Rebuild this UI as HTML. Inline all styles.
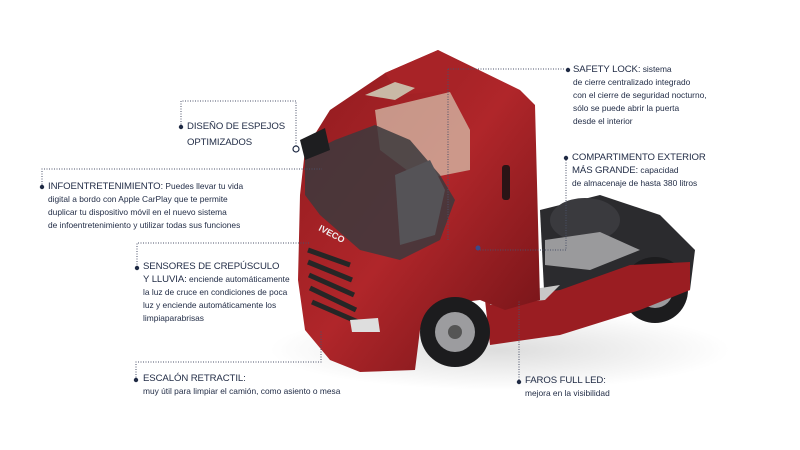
<!DOCTYPE html>
<html><head><meta charset="utf-8"><style>
body{margin:0;width:800px;height:450px;background:#fff;overflow:hidden;position:relative;font-family:"Liberation Sans",sans-serif;color:#1f2a44}
.t{position:absolute;font-size:8.4px;line-height:13px;white-space:nowrap}
.t b{font-weight:normal;font-size:9.6px;letter-spacing:-0.1px}
.h{font-size:9.6px;line-height:16px;letter-spacing:-0.1px}
svg{position:absolute;left:0;top:0}
</style></head><body>
<svg width="800" height="450">
<defs>
<linearGradient id="r" x1="0" y1="0" x2="1" y2="1"><stop offset="0" stop-color="#8e1a1e"/><stop offset="0.5" stop-color="#b0262a"/><stop offset="1" stop-color="#6e1216"/></linearGradient>
<radialGradient id="sh" cx="0.5" cy="0.5" r="0.5"><stop offset="0" stop-color="#ddd"/><stop offset="1" stop-color="#fff"/></radialGradient>
</defs>
<ellipse cx="500" cy="350" rx="230" ry="40" fill="url(#sh)"/>
<polygon points="540,210 600,195 660,215 695,250 690,290 600,320 545,310" fill="#2b2b2e"/>
<ellipse cx="585" cy="220" rx="35" ry="22" fill="#3a3a3e"/>
<polygon points="545,240 600,232 640,250 590,270 545,265" fill="#9a9a9c"/>
<circle cx="655" cy="290" r="33" fill="#1c1c1e"/><circle cx="655" cy="290" r="18" fill="#9c9c9f"/><circle cx="655" cy="290" r="7" fill="#555"/>
<polygon points="485,300 560,290 630,265 690,262 690,290 640,310 560,335 490,345" fill="#9a1d22"/>
<polygon points="495,295 560,285 545,300 490,305" fill="#c8c8c8"/>
<polygon points="300,195 305,150 330,110 385,73 438,50 520,90 535,105 540,300 505,310 480,300 440,305 420,330 415,370 360,372 330,360 305,330 298,280" fill="url(#r)"/>
<polygon points="385,73 438,50 470,68 455,90 400,95" fill="#a82327"/>
<polygon points="365,95 395,82 415,88 395,100" fill="#c9b9a6"/>
<polygon points="375,110 450,92 470,130 470,170 420,180 380,150" fill="#d8c9b4" opacity="0.7"/>
<polygon points="305,155 335,140 375,125 410,140 440,175 455,200 440,240 400,260 360,250 320,215 305,195" fill="#3c3a3d" opacity="0.85"/>
<polygon points="395,175 430,160 445,190 435,235 400,245" fill="#555357"/>
<polygon points="300,140 325,128 330,150 305,160" fill="#1e1e20"/>
<rect x="502" y="165" width="8" height="35" rx="3" fill="#2a1416"/>
<g stroke="#262626" stroke-width="5" fill="none">
<path d="M308,250 L350,265"/><path d="M308,262 L352,280"/><path d="M309,275 L354,295"/><path d="M310,288 L356,310"/><path d="M312,302 L358,322"/>
</g>
<text x="318" y="230" fill="#eee" font-size="9" font-weight="bold" transform="rotate(28 318 230)" font-family="Liberation Sans">IVECO</text>
<polygon points="350,320 378,318 380,332 352,332" fill="#dedede"/>
<circle cx="455" cy="332" r="35" fill="#1c1c1e"/><circle cx="455" cy="332" r="20" fill="#9c9c9f"/><circle cx="455" cy="332" r="7" fill="#555"/>
<g stroke="#4a5068" stroke-width="1" stroke-dasharray="1,1.5" fill="none">
<path d="M181,127 V101 H296 V146"/>
<path d="M42,187 V169 H322"/>
<path d="M137,267 V243 H310"/>
<path d="M136,380 V362 H321 V330"/>
<path d="M448,69 H565"/>
<path d="M448,69 V240"/>
<path d="M566,160 V250 H478"/>
<path d="M519,380 V300"/>
</g>
<circle cx="296" cy="149" r="3" fill="#fff" stroke="#1f2a44" stroke-width="1.2"/>
<circle cx="478" cy="248" r="2.5" fill="#3b4a8a"/>
<g fill="#1f2a44">
<circle cx="181" cy="127" r="2.2"/><circle cx="42" cy="187" r="2.2"/><circle cx="137" cy="268" r="2.2"/>
<circle cx="136" cy="380" r="2.2"/><circle cx="568" cy="70" r="2.2"/><circle cx="566" cy="158" r="2.2"/><circle cx="519" cy="382" r="2.2"/>
</g>
</svg>
<div class="t h" style="left:187px;top:119px">DISEÑO DE ESPEJOS<br>OPTIMIZADOS</div>
<div class="t" style="left:48px;top:180px"><b>INFOENTRETENIMIENTO:</b> Puedes llevar tu vida<br>digital a bordo con Apple CarPlay que te permite<br>duplicar tu dispositivo móvil en el nuevo sistema<br>de infoentretenimiento y utilizar todas sus funciones</div>
<div class="t" style="left:143px;top:260px"><b>SENSORES DE CREPÚSCULO</b><br><b>Y LLUVIA:</b> enciende automáticamente<br>la luz de cruce en condiciones de poca<br>luz y enciende automáticamente los<br>limpiaparabrisas</div>
<div class="t" style="left:143px;top:372px"><b>ESCALÓN RETRACTIL:</b><br>muy útil para limpiar el camión, como asiento o mesa</div>
<div class="t" style="left:573px;top:63px"><b>SAFETY LOCK:</b> sistema<br>de cierre centralizado integrado<br>con el cierre de seguridad nocturno,<br>sólo se puede abrir la puerta<br>desde el interior</div>
<div class="t" style="left:572px;top:151px"><b>COMPARTIMENTO EXTERIOR</b><br><b>MÁS GRANDE:</b> capacidad<br>de almacenaje de hasta 380 litros</div>
<div class="t" style="left:525px;top:374px"><b>FAROS FULL LED:</b><br>mejora en la visibilidad</div>
</body></html>
